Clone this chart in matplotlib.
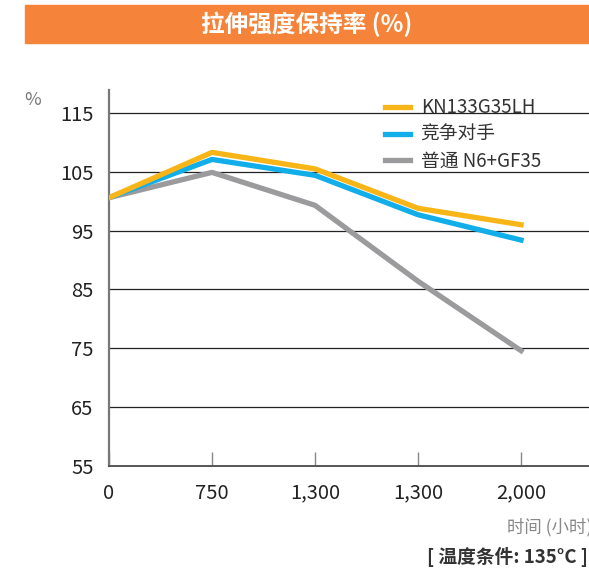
import matplotlib
matplotlib.use("Agg")
import matplotlib.pyplot as plt
from matplotlib.patches import Rectangle

plt.rcParams['font.family'] = ['Noto Sans CJK SC', 'DejaVu Sans']

# datos
hours = ["0", "750", "1,300", "1,300", "2,000"]
kn133 = [100.6, 108.3, 105.5, 98.8, 96.0]
rival = [100.6, 107.1, 104.4, 97.7, 93.4]
normal = [100.6, 104.9, 99.3, 86.4, 74.6]
yticks = [55, 65, 75, 85, 95, 105, 115]

fig = plt.figure(figsize=(5.89, 5.71), dpi=100)

# barra naranja del titulo
fig.patches.append(Rectangle((25/589, 1-43/571), 1, 38/571, transform=fig.transFigure,
                             color="#F5843A", zorder=0))
fig.text(307/589, 1-24/571, "拉伸强度保持率 (%)", color="white", fontsize=17,
         fontweight="bold", ha="center", va="center")

ax = fig.add_axes([109/589, 1-466/571, 1-109/589, (466-90)/571])
x = range(len(hours))
ax.plot(x, normal, color="#9B9B9D", lw=3.8, label="普通 N6+GF35", zorder=3)
ax.plot(x, rival, color="#12AEEA", lw=3.8, label="竞争对手", zorder=4)
ax.plot(x, kn133, color="#F8B518", lw=3.8, label="KN133G35LH", zorder=5)

ax.set_xlim(0, 4.66)
ax.set_ylim(55, 118.9)
ax.set_yticks(yticks)
ax.set_xticks(list(x))
ax.set_xticklabels(hours)
for v in yticks[1:]:
    ax.axhline(v, color="#222222", lw=0.9, zorder=1)

for s in ["top", "right"]:
    ax.spines[s].set_visible(False)
ax.spines["left"].set_color("#777777")
ax.spines["left"].set_linewidth(1.6)
ax.spines["bottom"].set_color("#555555")
ax.spines["bottom"].set_linewidth(1.4)
ax.tick_params(axis="x", direction="in", length=10, width=1, color="#888888",
               pad=12, labelsize=14.5, labelcolor="#222222")
ax.tick_params(axis="y", length=0, pad=11, labelsize=14.5, labelcolor="#222222")

h, l = ax.get_legend_handles_labels()
ax.legend(h[::-1], l[::-1], loc="upper left", bbox_to_anchor=(0.54, 1.025), frameon=False,
          fontsize=13.5, handlelength=1.35, handletextpad=0.55, labelspacing=0.3,
          labelcolor="#333333")

fig.text(33/589, 1-100/571, "%", color="#777777", fontsize=13, ha="center", va="center")
fig.text(592/589, 1-527/571, "时间 (小时)", color="#888888", fontsize=12.5,
         ha="right", va="center")
fig.text(588/589, 1-557/571, "[ 温度条件: 135°C ]", color="#333333", fontsize=13.5,
         fontweight="bold", ha="right", va="center")

fig.savefig("out.png", dpi=100)
